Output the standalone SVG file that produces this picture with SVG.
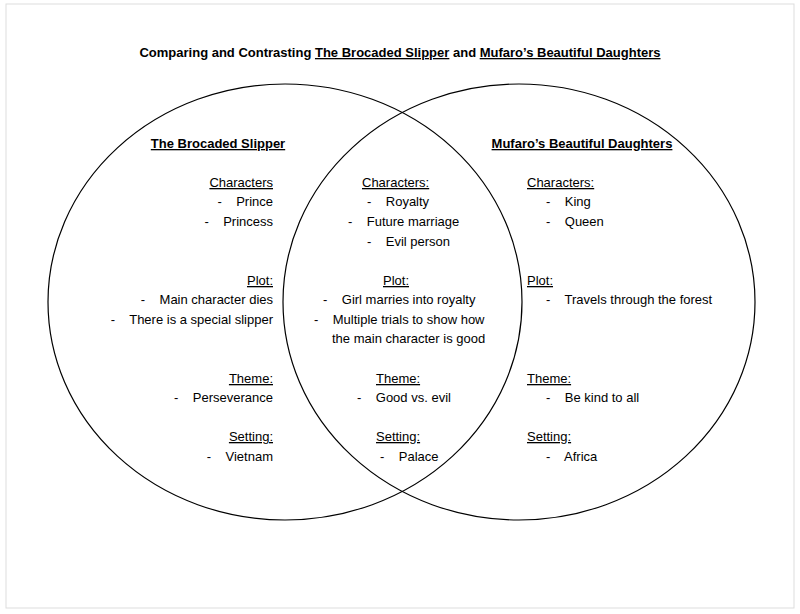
<svg xmlns="http://www.w3.org/2000/svg" width="800" height="614" viewBox="0 0 800 614" xml:space="preserve">
<style>
text{font-family:"Liberation Sans",Arial,sans-serif;font-size:13px;fill:#000;white-space:pre}
.t{font-weight:bold}
.u{text-decoration:underline}
.c{fill:none;stroke:#000;stroke-width:1.2}
</style>
<rect x="0" y="0" width="800" height="614" fill="#fff"/>
<rect x="6" y="4" width="788" height="604" fill="none" stroke="#ddd"/>
<g id="title"><text x="400" y="57" text-anchor="middle" class="t">Comparing and Contrasting <tspan class="u">The Brocaded Slipper</tspan> and <tspan class="u">Mufaro’s Beautiful Daughters</tspan></text></g>
<g id="left-circle"><ellipse class="c" cx="285" cy="302" rx="237" ry="218"/></g>
<g id="right-circle"><ellipse class="c" cx="519" cy="302" rx="236" ry="218"/></g>
<g id="left-text">
<text x="218" y="148" text-anchor="middle" class="t u">The Brocaded Slipper</text>
<text x="273" y="187" text-anchor="end" class="u">Characters</text>
<text x="273" y="206" text-anchor="end">-    Prince</text>
<text x="273" y="226" text-anchor="end">-    Princess</text>
<text x="273" y="285" text-anchor="end" class="u">Plot:</text>
<text x="273" y="304" text-anchor="end">-    Main character dies</text>
<text x="273" y="324" text-anchor="end">-    There is a special slipper</text>
<text x="273" y="383" text-anchor="end" class="u">Theme:</text>
<text x="273" y="402" text-anchor="end">-    Perseverance</text>
<text x="273" y="441" text-anchor="end" class="u">Setting:</text>
<text x="273" y="461" text-anchor="end">-    Vietnam</text>
</g>
<g id="middle-text">
<text x="362" y="187" class="u">Characters:</text>
<text x="367" y="206">-    Royalty</text>
<text x="348" y="226">-    Future marriage</text>
<text x="367" y="246">-    Evil person</text>
<text x="383" y="285" class="u">Plot:</text>
<text x="323" y="304">-    Girl marries into royalty</text>
<text x="314" y="324">-    Multiple trials to show how</text>
<text x="332" y="343">the main character is good</text>
<text x="376" y="383" class="u">Theme:</text>
<text x="357" y="402">-    Good vs. evil</text>
<text x="376" y="441" class="u">Setting:</text>
<text x="380" y="461">-    Palace</text>
</g>
<g id="right-text">
<text x="582" y="148" text-anchor="middle" class="t u">Mufaro’s Beautiful Daughters</text>
<text x="527" y="187" class="u">Characters:</text>
<text x="546" y="206">-    King</text>
<text x="546" y="226">-    Queen</text>
<text x="527" y="285" class="u">Plot:</text>
<text x="546" y="304">-    Travels through the forest</text>
<text x="527" y="383" class="u">Theme:</text>
<text x="546" y="402">-    Be kind to all</text>
<text x="527" y="441" class="u">Setting:</text>
<text x="546" y="461">-    Africa</text>
</g>
</svg>
